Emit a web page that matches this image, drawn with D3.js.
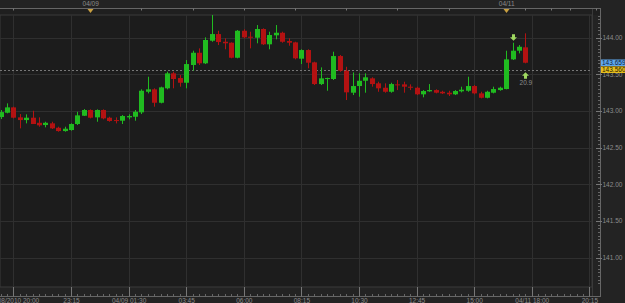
<!DOCTYPE html>
<html>
<head>
<meta charset="utf-8">
<script src="https://cdn.jsdelivr.net/npm/d3@7"></script>
<style>
  body { margin: 0; background: #232323; }
  text { font-family: "Liberation Sans", Arial, sans-serif; font-size: 6.5px; fill: #8c8c8c; }
</style>
</head>
<body>
<script>
// 15 minute candles, USD/JPY style quotes
var opens = [142.918,142.977,143.050,142.914,142.877,142.909,142.840,142.809,142.832,142.772,
  142.727,142.741,142.823,142.936,143.014,142.914,143.014,142.909,142.877,142.868,
  142.914,142.922,142.982,143.263,143.296,143.113,143.310,143.514,143.450,143.386,
  143.628,143.795,143.651,143.959,144.050,143.945,143.932,143.727,144.095,144.014,
  144.000,144.119,143.910,144.033,144.068,143.955,143.937,143.714,143.832,143.664,
  143.368,143.437,143.437,143.750,143.550,143.250,143.341,143.413,143.446,143.378,
  143.318,143.263,143.364,143.364,143.332,143.318,143.228,143.269,143.286,143.263,
  143.250,143.228,143.269,143.277,143.341,143.241,143.181,143.250,143.286,143.300,
  143.705,143.823,143.869];
var highs = [143.014,143.105,143.059,142.959,142.955,143.004,142.914,142.854,142.854,142.786,
  142.786,142.832,142.990,143.027,143.023,143.023,143.023,142.922,142.914,142.945,
  142.955,143.014,143.296,143.468,143.310,143.332,143.536,143.536,143.491,143.696,
  143.823,143.855,144.005,144.310,144.095,143.992,143.937,144.105,144.115,144.082,
  144.173,144.128,144.082,144.173,144.082,143.992,143.945,143.842,143.842,143.673,
  143.596,143.455,143.809,143.764,143.604,143.527,143.514,143.514,143.460,143.400,
  143.378,143.386,143.423,143.400,143.364,143.332,143.286,143.368,143.296,143.277,
  143.277,143.286,143.332,143.468,143.355,143.263,143.277,143.332,143.332,143.823,
  143.932,143.900,144.060];
var lows = [142.891,142.969,142.900,142.764,142.832,142.823,142.786,142.778,142.755,142.718,
  142.718,142.732,142.809,142.932,142.900,142.854,142.887,142.854,142.832,142.823,
  142.887,142.868,142.959,143.241,143.059,143.105,143.296,143.310,143.332,143.310,
  143.550,143.628,143.641,143.945,143.900,143.842,143.719,143.719,143.992,143.855,
  143.924,143.900,143.842,143.978,143.932,143.891,143.705,143.641,143.583,143.355,
  143.355,143.277,143.423,143.536,143.150,143.218,143.195,143.250,143.332,143.263,
  143.250,143.250,143.286,143.250,143.286,143.218,143.187,143.263,143.241,143.232,
  143.205,143.218,143.255,143.263,143.228,143.173,143.173,143.241,143.277,143.296,
  143.696,143.787,143.651];
var closes = [142.986,143.050,142.909,142.877,142.909,142.823,142.805,142.840,142.764,142.727,
  142.759,142.823,142.941,143.014,142.909,143.014,142.900,142.864,142.868,142.932,
  142.932,142.990,143.277,143.296,143.113,143.323,143.514,143.437,143.386,143.641,
  143.795,143.651,143.969,144.050,143.941,143.924,143.727,144.095,144.005,144.000,
  144.119,143.910,144.037,144.068,143.945,143.932,143.719,143.832,143.659,143.368,
  143.446,143.450,143.750,143.550,143.255,143.341,143.413,143.460,143.368,143.310,
  143.263,143.368,143.355,143.332,143.318,143.228,143.273,143.286,143.250,143.241,
  143.228,143.273,143.291,143.341,143.241,143.181,143.263,143.300,143.318,143.705,
  143.823,143.877,143.659];

var timeLabels = ["04/08/2010 20:00","23:15","04/09 01:30","03:45","06:00","08:15","10:30","12:45","15:00","04/11 18:00","20:15"];
var timeLabelIdx = [2,11,20,29,38,47,56,65,74,83,92];
var dayLabels = ["04/09","04/11"];
var dayLabelIdx = [14,79];
var topTickIdx = [2,22,30,38,46,54,62,70,82,86,89,93];
var priceTicks = [141.0,141.5,142.0,142.5,143.0,143.5,144.0];
var bidPrice = 143.560, lastPrice = 143.659;
var signalDown = 80, signalUp = 82, signalText = "20.9";

var W = 625, H = 303;
var plotL = 0, plotR = 592, plotT = 15, plotB = 287, axisX = 600;

var svg = d3.select("body").append("svg").attr("width", W).attr("height", H);

var x = d3.scaleLinear().domain([0, 92]).range([0.6, 589.4]);
var y = d3.scaleLinear().domain([140.6, 144.31]).range([plotB, plotT]);

// background strips
svg.append("rect").attr("x", 0).attr("y", 8).attr("width", axisX).attr("height", plotT - 8).attr("fill", "#1f1f1f");
svg.append("rect").attr("x", plotL).attr("y", plotT).attr("width", plotR - plotL).attr("height", plotB - plotT)
  .attr("fill", "#1c1c1c").attr("stroke", "#3a3a3a");

// grid
svg.selectAll(".vgrid").data(timeLabelIdx).enter().append("line")
  .attr("x1", function(d) { return Math.round(x(d)) + 0.5; })
  .attr("x2", function(d) { return Math.round(x(d)) + 0.5; })
  .attr("y1", plotT).attr("y2", plotB)
  .attr("stroke", "#2f2f2f");
svg.selectAll(".hgrid").data(priceTicks).enter().append("line")
  .attr("x1", plotL).attr("x2", plotR)
  .attr("y1", function(d) { return Math.round(y(d)) + 0.5; })
  .attr("y2", function(d) { return Math.round(y(d)) + 0.5; })
  .attr("stroke", "#2f2f2f");

// bid line
svg.append("line").attr("x1", plotL).attr("x2", plotR)
  .attr("y1", Math.round(y(bidPrice)) + 0.5).attr("y2", Math.round(y(bidPrice)) + 0.5)
  .attr("stroke", "#777").attr("stroke-dasharray", "2,2");

// candles
var candles = d3.range(opens.length).map(function(i) {
  return {i: i, o: opens[i], h: highs[i], l: lows[i], c: closes[i]};
});
var g = svg.selectAll(".candle").data(candles).enter().append("g").attr("class", "candle");
function col(d) { return d.c >= d.o ? "#20bb20" : "#b31212"; }
g.append("line")
  .attr("x1", function(d) { return Math.round(x(d.i)) + 0.5; })
  .attr("x2", function(d) { return Math.round(x(d.i)) + 0.5; })
  .attr("y1", function(d) { return y(d.h); })
  .attr("y2", function(d) { return y(d.l); })
  .attr("stroke", col);
g.append("rect")
  .attr("x", function(d) { return Math.round(x(d.i)) - 2; })
  .attr("width", 5)
  .attr("y", function(d) { return y(Math.max(d.o, d.c)); })
  .attr("height", function(d) { return Math.max(1, Math.abs(y(d.o) - y(d.c))); })
  .attr("fill", col);

// signal arrows
function arrow(cx, tipY, dir) {
  var s = dir; // 1 = pointing down, -1 = up
  return "M" + cx + "," + tipY +
    "L" + (cx - 3.5) + "," + (tipY - 3.5 * s) +
    "L" + (cx - 1.5) + "," + (tipY - 3.5 * s) +
    "L" + (cx - 1.5) + "," + (tipY - 6.5 * s) +
    "L" + (cx + 1.5) + "," + (tipY - 6.5 * s) +
    "L" + (cx + 1.5) + "," + (tipY - 3.5 * s) +
    "L" + (cx + 3.5) + "," + (tipY - 3.5 * s) + "Z";
}
svg.append("path").attr("d", arrow(Math.round(x(signalDown)) + 0.5, y(highs[signalDown]) - 2, 1))
  .attr("fill", "#9fd860");
svg.append("path").attr("d", arrow(Math.round(x(signalUp)) + 0.5, y(lows[signalUp]) + 9, -1))
  .attr("fill", "#9fd860");
svg.append("text").attr("x", x(signalUp) + 0.5).attr("y", y(lows[signalUp]) + 22)
  .attr("text-anchor", "middle").text(signalText);

// right axis
svg.append("line").attr("x1", plotR + 0.5).attr("x2", plotR + 0.5).attr("y1", 8).attr("y2", 296).attr("stroke", "#3a3a3a");
svg.append("line").attr("x1", axisX + 0.5).attr("x2", axisX + 0.5).attr("y1", 8).attr("y2", 297).attr("stroke", "#666");
var minor = d3.range(140.65, 144.31, 0.05);
svg.selectAll(".ytick").data(minor).enter().append("line")
  .attr("x1", axisX - 2).attr("x2", axisX)
  .attr("y1", function(d) { return Math.round(y(d)) + 0.5; })
  .attr("y2", function(d) { return Math.round(y(d)) + 0.5; })
  .attr("stroke", "#666");
svg.selectAll(".ymaj").data(priceTicks).enter().append("line")
  .attr("x1", axisX - 4).attr("x2", axisX + 2)
  .attr("y1", function(d) { return Math.round(y(d)) + 0.5; })
  .attr("y2", function(d) { return Math.round(y(d)) + 0.5; })
  .attr("stroke", "#777");
svg.selectAll(".ylab").data(priceTicks).enter().append("text")
  .attr("x", axisX + 2.5).attr("y", function(d) { return y(d); })
  .attr("dy", "0.35em")
  .text(function(d) { return d.toFixed(2); });

// price tags
var tagY = y(bidPrice);
svg.append("rect").attr("x", axisX + 1).attr("y", tagY - 3.5).attr("width", 25).attr("height", 6.5).attr("fill", "#e6bf1e");
svg.append("text").attr("x", axisX + 2).attr("y", tagY).attr("dy", "0.35em").style("fill", "#2a2000").text(bidPrice.toFixed(3));
svg.append("rect").attr("x", axisX + 1).attr("y", tagY - 10.5).attr("width", 25).attr("height", 6.5).attr("fill", "#5fa8ee");
svg.append("text").attr("x", axisX + 2).attr("y", tagY - 7).attr("dy", "0.35em").style("fill", "#10203a").text(lastPrice.toFixed(3));

// top axis
svg.append("line").attr("x1", 0).attr("x2", axisX).attr("y1", 8.5).attr("y2", 8.5).attr("stroke", "#666");
svg.selectAll(".ttick").data(topTickIdx).enter().append("line")
  .attr("x1", function(d) { return Math.round(x(d)) + 0.5; })
  .attr("x2", function(d) { return Math.round(x(d)) + 0.5; })
  .attr("y1", 8.5).attr("y2", 10.5).attr("stroke", "#777");
svg.selectAll(".tmark").data(dayLabelIdx).enter().append("path")
  .attr("d", function(d) { var cx = Math.round(x(d)) + 0.5; return "M" + (cx - 3) + ",9L" + (cx + 3) + ",9L" + cx + ",13Z"; })
  .attr("fill", "#c9a040");
svg.selectAll(".tlab").data(dayLabels).enter().append("text")
  .attr("x", function(d, i) { return x(dayLabelIdx[i]) + 0.5; })
  .attr("y", 6).attr("text-anchor", "middle")
  .text(function(d) { return d; });

// bottom axis
svg.append("line").attr("x1", 0).attr("x2", axisX).attr("y1", 296.5).attr("y2", 296.5).attr("stroke", "#666");
svg.selectAll(".bminor").data(d3.range(0, 93)).enter().append("line")
  .attr("x1", function(d) { return Math.round(x(d)) + 0.5; })
  .attr("x2", function(d) { return Math.round(x(d)) + 0.5; })
  .attr("y1", 294).attr("y2", 296.5).attr("stroke", "#666");
svg.selectAll(".bmaj").data(timeLabelIdx).enter().append("line")
  .attr("x1", function(d) { return Math.round(x(d)) + 0.5; })
  .attr("x2", function(d) { return Math.round(x(d)) + 0.5; })
  .attr("y1", plotB).attr("y2", 296.5).attr("stroke", "#777");
svg.selectAll(".blab").data(timeLabels).enter().append("text")
  .attr("x", function(d, i) { return x(timeLabelIdx[i]) + 0.5; })
  .attr("y", 302.5).attr("text-anchor", "middle")
  .text(function(d) { return d; });
</script>
</body>
</html>
